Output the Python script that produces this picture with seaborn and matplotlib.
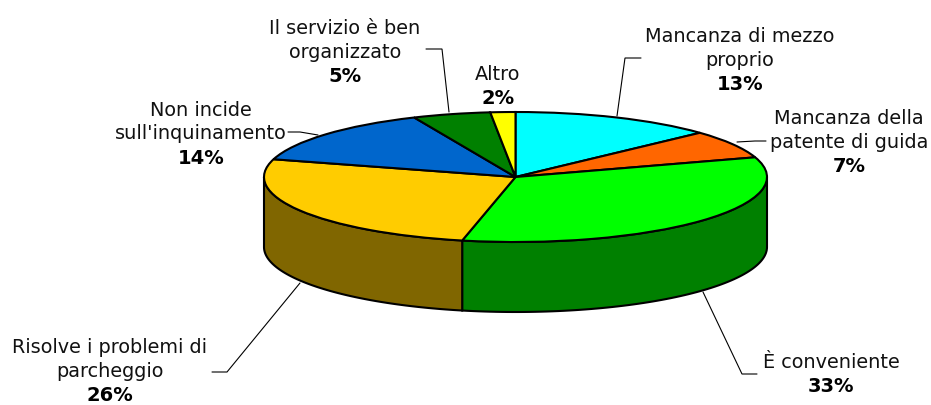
import numpy as np
import seaborn as sns
import matplotlib.pyplot as plt

sns.set_theme(style="white")
plt.rcParams['font.family'] = ['DejaVu Sans']

# Slices, clockwise from the top
labels = ["Mancanza di mezzo\nproprio", "Mancanza della\npatente di guida", "È conveniente",
          "Risolve i problemi di\nparcheggio", "Non incide\nsull'inquinamento",
          "Il servizio è ben\norganizzato", "Altro"]
values = [13.1, 7.0, 33.3, 26.0, 14.0, 5.0, 1.6]
top_colors = ["#00FFFF", "#FF6600", "#00FF00", "#FFCC00", "#0066CC", "#008000", "#FFFF00"]
side_colors = ["#008080", "#803300", "#008000", "#806600", "#003366", "#004000", "#808000"]

# Label placement in pixels: centre x, y of the first line
label_pos = [(740, 36), (849, 119), (831, 363), (110, 348), (201, 110), (345, 28), (498, 74)]
# Leader lines in pixels
leaders = [
    [(617, 117), (625, 59), (641, 59)],
    [(737, 143), (755, 142), (766, 142)],
    [(703, 293), (742, 375), (757, 375)],
    [(300, 284), (227, 373), (212, 373)],
    [(318, 136), (300, 133), (288, 133)],
    [(449, 113), (442, 50), (426, 50)],
]

W, H = 931, 406
CX, CY, RX, RY, DEPTH = 515.5, 178, 251.5, 65, 70
LINE = 24

fig = plt.figure(figsize=(W / 100, H / 100), dpi=100)
ax = fig.add_axes([0, 0, 1, 1])

ax.pie(values, colors=sns.color_palette(top_colors), startangle=90, counterclock=False,
       wedgeprops=dict(edgecolor="black", linewidth=1.5))

# The pie is a unit circle, the axes limits squash it into the tilted ellipse
ax.set_aspect("auto")
ax.set_xlim(-CX / RX, (W - CX) / RX)
ax.set_ylim(-(H - CY) / RY, CY / RY)

# Side wall, only the part of each slice facing the viewer
d = DEPTH / RY
edges = np.radians(np.cumsum([0] + values) * 3.6)
for a, b, col in zip(edges[:-1], edges[1:], side_colors):
    a, b = max(a, np.pi / 2), min(b, 3 * np.pi / 2)
    if b <= a:
        continue
    t = np.linspace(a, b, 80)
    x = np.r_[np.sin(t), np.sin(t[::-1])]
    y = np.r_[np.cos(t), np.cos(t[::-1]) - d]
    ax.fill(x, y, facecolor=col, edgecolor="black", linewidth=1.5, zorder=0.5)

for line in leaders:
    xs = [p[0] / W for p in line]
    ys = [1 - p[1] / H for p in line]
    ax.plot(xs, ys, color="black", lw=0.8, transform=fig.transFigure, solid_joinstyle="miter")

for lab, val, (px, py) in zip(labels, values, label_pos):
    rows = lab.split("\n")
    for i, row in enumerate(rows):
        fig.text(px / W, 1 - (py + i * LINE) / H, row, ha="center", va="center",
                 fontsize=13.9, color="#111111")
    fig.text(px / W, 1 - (py + len(rows) * LINE) / H, f"{val:.0f}%", ha="center", va="center",
             fontsize=14, fontweight="bold", color="black")

fig.savefig("out.png", dpi=100, facecolor="white")
